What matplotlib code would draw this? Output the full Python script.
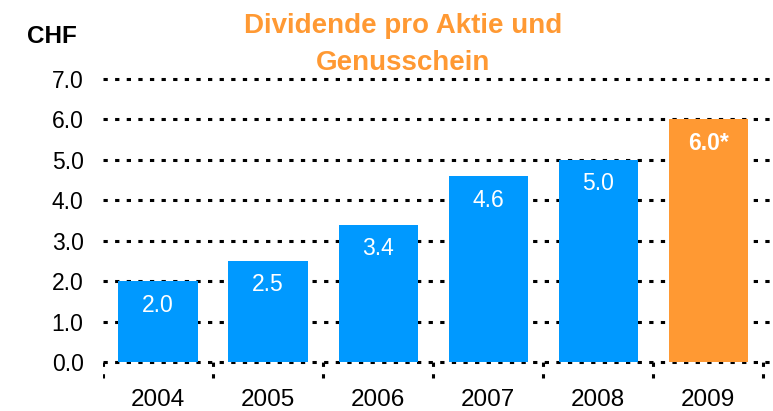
import matplotlib
matplotlib.use("Agg")
import matplotlib.pyplot as plt

years = ["2004", "2005", "2006", "2007", "2008", "2009"]
values = [2.0, 2.5, 3.4, 4.6, 5.0, 6.0]
labels = ["2.0", "2.5", "3.4", "4.6", "5.0", "6.0*"]
yticks = [0.0, 1.0, 2.0, 3.0, 4.0, 5.0, 6.0, 7.0]
title_lines = ["Dividende pro Aktie und", "Genusschein"]
unit = "CHF"

plt.rcParams['font.family'] = ['Liberation Sans', 'DejaVu Sans']

blue = "#0099FF"
orange = "#FF9933"
colors = [blue] * 5 + [orange]

fig = plt.figure(figsize=(7.73, 4.11), dpi=100)
ax = fig.add_axes([0.1332, 0.0749, 0.8629, 0.7426])
x = list(range(len(years)))
ax.bar(x, values, width=0.72, color=colors, zorder=3)
ax.set_xlim(-0.5, 5.56)
ax.set_ylim(-0.45, 7.1)
dot = (0, (1.4, 2.4))
for yv in yticks:
    ax.axhline(yv, color="black", lw=2.2, ls=dot, zorder=2)
for i in range(len(years) + 1):
    ax.vlines(i - 0.5, -0.4, 0.15, color="black", lw=2.2, ls=dot, zorder=2)
for s in ax.spines.values():
    s.set_visible(False)
ax.set_yticks(yticks)
ax.set_yticklabels([f"{v:.1f}" for v in yticks], fontsize=16.5)
ax.set_xticks(x)
ax.set_xticklabels(years, fontsize=17.5)
ax.tick_params(axis="y", length=0, pad=14)
ax.tick_params(axis="x", length=0, pad=6)

for i, (v, lab) in enumerate(zip(values, labels)):
    bold = lab.endswith("*")
    ax.annotate(lab, (i, v), xytext=(0, -24), textcoords="offset pixels",
                ha="center", va="center", color="white", fontsize=16.5,
                fontweight="bold" if bold else "normal", zorder=4)

fig.text(0.521, 1 - 33 / 411, title_lines[0], ha="center", va="baseline",
         fontsize=20, fontweight="bold", color=orange)
fig.text(0.521, 1 - 70 / 411, title_lines[1], ha="center", va="baseline",
         fontsize=20, fontweight="bold", color=orange)
fig.text(0.035, 1 - 43 / 411, unit, ha="left", va="baseline", fontsize=17.5,
         fontweight="bold", color="black")

fig.savefig("out.png", dpi=100)
